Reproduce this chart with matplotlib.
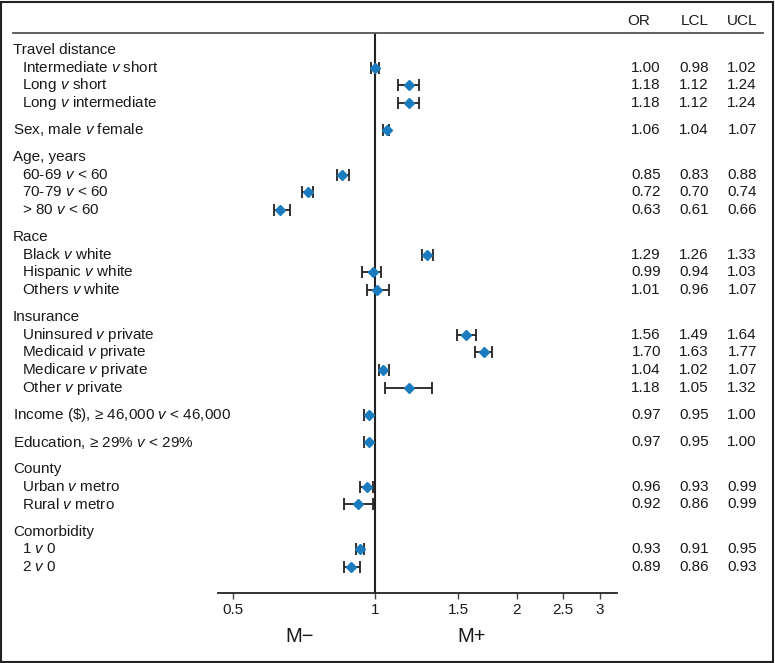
import numpy as np
import matplotlib.pyplot as plt
from matplotlib.transforms import blended_transform_factory
from matplotlib.patches import Rectangle
from matplotlib.lines import Line2D

# forest plot data: (group header, [(label, OR, LCL, UCL), ...])
# a group with header None is a single line comparison
groups = ["Travel distance", None, "Age, years", "Race", "Insurance",
          None, None, "County", "Comorbidity"]
labels = [
    ["Intermediate $v$ short", "Long $v$ short", "Long $v$ intermediate"],
    ["Sex, male $v$ female"],
    ["60-69 $v$ < 60", "70-79 $v$ < 60", "> 80 $v$ < 60"],
    ["Black $v$ white", "Hispanic $v$ white", "Others $v$ white"],
    ["Uninsured $v$ private", "Medicaid $v$ private", "Medicare $v$ private", "Other $v$ private"],
    ["Income (\\$), ≥ 46,000 $v$ < 46,000"],
    ["Education, ≥ 29% $v$ < 29%"],
    ["Urban $v$ metro", "Rural $v$ metro"],
    ["1 $v$ 0", "2 $v$ 0"],
]
odds = [[1.00, 1.18, 1.18], [1.06], [0.85, 0.72, 0.63], [1.29, 0.99, 1.01],
        [1.56, 1.70, 1.04, 1.18], [0.97], [0.97], [0.96, 0.92], [0.93, 0.89]]
lcl = [[0.98, 1.12, 1.12], [1.04], [0.83, 0.70, 0.61], [1.26, 0.94, 0.96],
       [1.49, 1.63, 1.02, 1.05], [0.95], [0.95], [0.93, 0.86], [0.91, 0.86]]
ucl = [[1.02, 1.24, 1.24], [1.07], [0.88, 0.74, 0.66], [1.33, 1.03, 1.07],
       [1.64, 1.77, 1.07, 1.32], [1.00], [1.00], [0.99, 0.99], [0.95, 0.93]]
xticks = [0.5, 1, 1.5, 2, 2.5, 3]

W, H = 775, 663
fig = plt.figure(figsize=(W / 100, H / 100), dpi=100)
plt.rcParams['font.family'] = ['Liberation Sans', 'DejaVu Sans']
plt.rcParams['mathtext.fontset'] = 'custom'
plt.rcParams['mathtext.it'] = 'Liberation Sans:italic'
plt.rcParams['mathtext.rm'] = 'Liberation Sans'

top, bottom = 33, 593
ax = fig.add_axes([218 / W, 1 - bottom / H, (617 - 218) / W, (bottom - top) / H])
ax.set_xscale('log')
ax.set_xlim(0.465, 3.26)
ax.set_ylim(bottom, top)

txt = '#1a1a1a'
blue = '#1a7cbf'
fs = 11
tr = blended_transform_factory(fig.transFigure, ax.transData)

# lay out rows (pixel rows, row step ~17.6, extra gap between groups)
step, gap = 17.6, 9.6
y = 50
for g, lab, o, lo, hi in zip(groups, labels, odds, lcl, ucl):
    if g is not None:
        ax.text(13 / W, y, g, transform=tr, fontsize=fs, va='center', color=txt)
        y += step
        indent = 22
    else:
        indent = 13
    for l, v, a, b in zip(lab, o, lo, hi):
        ax.text(indent / W, y, l, transform=tr, fontsize=fs, va='center', color=txt)
        ax.errorbar(v, y, xerr=[[v - a], [b - v]], fmt='none', ecolor='#222222',
                    elinewidth=1.3, capsize=4, capthick=1.3, zorder=2)
        ax.plot(v, y, marker='D', color=blue, markersize=5.5, zorder=3)
        for xx, val in zip([661, 709, 757], [v, a, b]):
            ax.text(xx / W, y, f"{val:.2f}", transform=tr, fontsize=fs,
                    va='center', ha='right', color=txt)
        y += step
    y += gap

for xx, h in zip([650, 709, 757], ["OR", "LCL", "UCL"]):
    fig.text(xx / W, 1 - 21 / H, h, fontsize=fs, ha='right', va='center', color=txt)

# reference line at OR = 1
ax.axvline(1, color='#222222', lw=1.5, zorder=1)

for s in ['top', 'right', 'left']:
    ax.spines[s].set_visible(False)
ax.spines['bottom'].set_linewidth(1.3)
ax.spines['bottom'].set_color('#222222')
ax.set_yticks([])
ax.set_xticks(xticks)
ax.set_xticklabels([f"{t:g}" for t in xticks])
ax.xaxis.set_minor_locator(plt.NullLocator())
ax.tick_params(axis='x', length=4, width=1, color='#444444', labelsize=fs,
               labelcolor=txt, pad=3)

fig.text(300 / W, 1 - 637 / H, "M−", fontsize=14.5, ha='center', va='center', color=txt)
fig.text(472 / W, 1 - 637 / H, "M+", fontsize=14.5, ha='center', va='center', color=txt)

# header rule and outer frame
fig.add_artist(Line2D([13 / W, 763 / W], [1 - 33 / H, 1 - 33 / H], color='#555555', lw=1.3))
fig.add_artist(Rectangle((1 / W, 1 / H), 772 / W, 660 / H, transform=fig.transFigure,
                         fill=False, edgecolor='#222222', lw=1.5))

fig.savefig('out.png', dpi=100)
